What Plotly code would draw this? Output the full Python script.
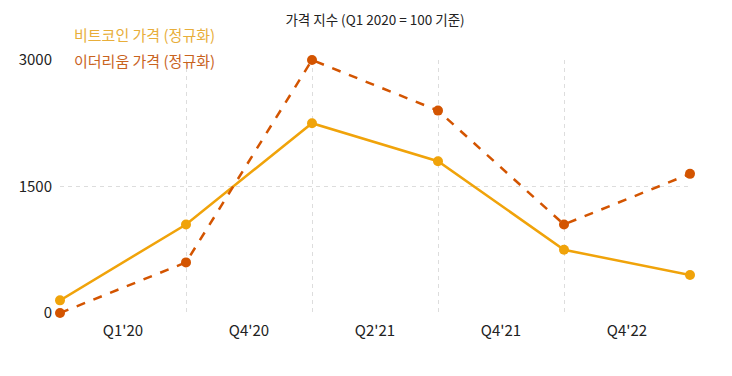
import plotly.graph_objects as go

x_idx = [0, 1, 2, 3, 4, 5]
btc = [150, 1050, 2250, 1800, 750, 450]
eth = [0, 600, 3000, 2400, 1050, 1650]
tick_pos = [0.5, 1.5, 2.5, 3.5, 4.5]
tick_labels = ["Q1'20", "Q4'20", "Q2'21", "Q4'21", "Q4'22"]
btc_name = "비트코인 가격 (정규화)"
eth_name = "이더리움 가격 (정규화)"
title = "가격 지수 (Q1 2020 = 100 기준)"

btc_color = "#F0A30A"
eth_color = "#D35400"
font_family = "Noto Sans CJK KR, Noto Sans, sans-serif"

fig = go.Figure()
fig.add_trace(go.Scatter(x=x_idx, y=btc, mode="lines+markers", name=btc_name,
                         line=dict(color=btc_color, width=2.5),
                         marker=dict(size=10, color=btc_color), cliponaxis=False))
fig.add_trace(go.Scatter(x=x_idx, y=eth, mode="lines+markers", name=eth_name,
                         line=dict(color=eth_color, width=2.5, dash="dash"),
                         marker=dict(size=10, color=eth_color), cliponaxis=False))

fig.update_layout(
    width=732, height=376,
    margin=dict(l=52, r=50, t=52, b=71),
    paper_bgcolor="white", plot_bgcolor="white",
    showlegend=False,
    font=dict(family=font_family, size=15, color="#222"),
    title=dict(text=title, x=(52 + 315) / 732, xanchor="center", y=1 - 12 / 376, yanchor="middle",
               font=dict(size=13.5, color="#222")),
    xaxis=dict(range=[0, 5], tickmode="array", tickvals=tick_pos, ticktext=tick_labels,
               showgrid=False, zeroline=False, showline=False, ticks="",
               ticklabelstandoff=7, automargin=False,
               minor=dict(tickmode="array", tickvals=x_idx[:-1], showgrid=True,
                          gridcolor="#dddddd", griddash="4px,4px", gridwidth=1, ticks="")),
    yaxis=dict(range=[0, 3000], tickmode="array", tickvals=[0, 1500, 3000],
               ticktext=["0", "1500", "3000"], showgrid=True, gridcolor="#dddddd",
               griddash="4px,4px", zeroline=False, showline=False, ticks="",
               ticklabelstandoff=7, automargin=False),
)

fig.add_annotation(text=btc_name, xref="paper", yref="paper", x=12 / 630, y=1 + 25 / 253,
                   xanchor="left", yanchor="middle", showarrow=False,
                   font=dict(size=15, color="#E8AE3A"))
fig.add_annotation(text=eth_name, xref="paper", yref="paper", x=12 / 630, y=1.0,
                   xanchor="left", yanchor="middle", showarrow=False,
                   font=dict(size=15, color="#C9631E"))

fig.write_html("out.html")
